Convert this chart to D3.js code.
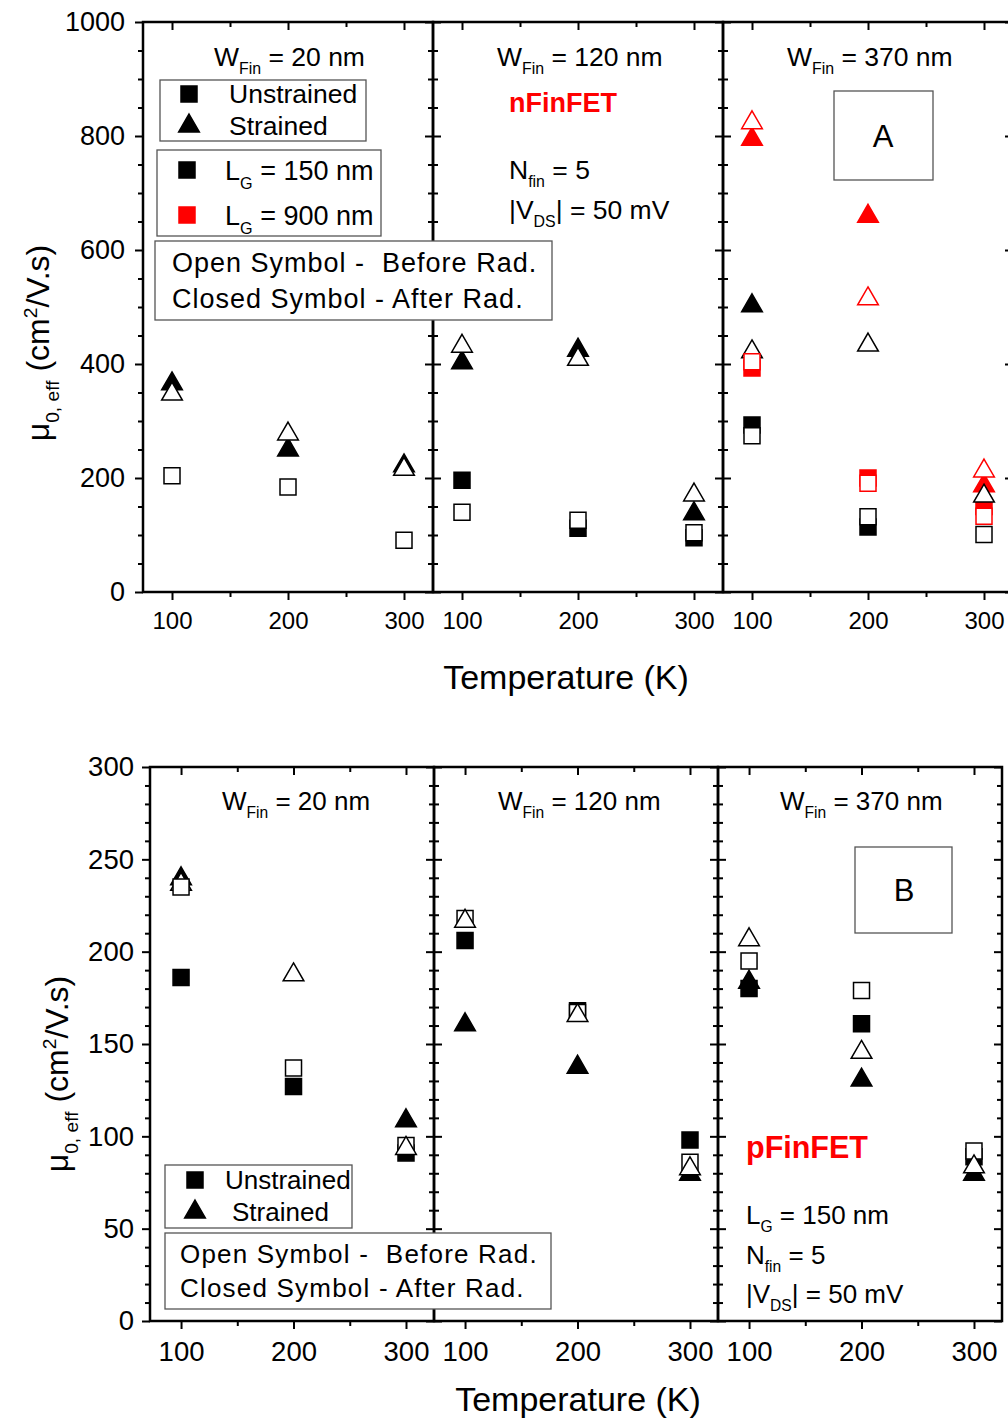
<!DOCTYPE html>
<html>
<head>
<meta charset="utf-8">
<script src="https://cdn.jsdelivr.net/npm/d3@7"></script>
<style>
  body { margin: 0; background: #fff; }
  text { font-family: "Liberation Sans", Arial, sans-serif; fill: #000; white-space: pre; }
</style>
</head>
<body>
<script>
const temperatures = [100, 200, 300];
const minorTemps = [150, 250];
const finWidths = [20, 120, 370];

const nTicks = [0, 200, 400, 600, 800, 1000];
const pTicks = [0, 50, 100, 150, 200, 250, 300];

// s: U = unstrained, S = strained ; r: B = before rad, A = after rad ; lg: gate length
const nFinData = [
  { w: 20, t: 100, s: "S", r: "A", lg: 150, mu: 367 },
  { w: 20, t: 100, s: "S", r: "B", lg: 150, mu: 349 },
  { w: 20, t: 100, s: "U", r: "B", lg: 150, mu: 204 },
  { w: 20, t: 200, s: "S", r: "B", lg: 150, mu: 279 },
  { w: 20, t: 200, s: "S", r: "A", lg: 150, mu: 251 },
  { w: 20, t: 200, s: "U", r: "B", lg: 150, mu: 184 },
  { w: 20, t: 300, s: "S", r: "A", lg: 150, mu: 223 },
  { w: 20, t: 300, s: "S", r: "B", lg: 150, mu: 217 },
  { w: 20, t: 300, s: "U", r: "B", lg: 150, mu: 91 },

  { w: 120, t: 100, s: "S", r: "B", lg: 150, mu: 433 },
  { w: 120, t: 100, s: "S", r: "A", lg: 150, mu: 404 },
  { w: 120, t: 100, s: "U", r: "A", lg: 150, mu: 196 },
  { w: 120, t: 100, s: "U", r: "B", lg: 150, mu: 140 },
  { w: 120, t: 200, s: "S", r: "A", lg: 150, mu: 426 },
  { w: 120, t: 200, s: "S", r: "B", lg: 150, mu: 410 },
  { w: 120, t: 200, s: "U", r: "B", lg: 150, mu: 126 },
  { w: 120, t: 200, s: "U", r: "A", lg: 150, mu: 112 },
  { w: 120, t: 300, s: "S", r: "B", lg: 150, mu: 172 },
  { w: 120, t: 300, s: "S", r: "A", lg: 150, mu: 139 },
  { w: 120, t: 300, s: "U", r: "B", lg: 150, mu: 104 },
  { w: 120, t: 300, s: "U", r: "A", lg: 150, mu: 95 },

  { w: 370, t: 100, s: "S", r: "B", lg: 900, mu: 825 },
  { w: 370, t: 100, s: "S", r: "A", lg: 900, mu: 796 },
  { w: 370, t: 100, s: "S", r: "A", lg: 150, mu: 504 },
  { w: 370, t: 100, s: "S", r: "B", lg: 150, mu: 423 },
  { w: 370, t: 100, s: "U", r: "A", lg: 900, mu: 393 },
  { w: 370, t: 100, s: "U", r: "B", lg: 900, mu: 404 },
  { w: 370, t: 100, s: "U", r: "A", lg: 150, mu: 293 },
  { w: 370, t: 100, s: "U", r: "B", lg: 150, mu: 274 },
  { w: 370, t: 200, s: "S", r: "A", lg: 900, mu: 661 },
  { w: 370, t: 200, s: "S", r: "B", lg: 900, mu: 516 },
  { w: 370, t: 200, s: "S", r: "B", lg: 150, mu: 435 },
  { w: 370, t: 200, s: "U", r: "A", lg: 900, mu: 200 },
  { w: 370, t: 200, s: "U", r: "B", lg: 900, mu: 191 },
  { w: 370, t: 200, s: "U", r: "B", lg: 150, mu: 132 },
  { w: 370, t: 200, s: "U", r: "A", lg: 150, mu: 114 },
  { w: 370, t: 300, s: "S", r: "B", lg: 900, mu: 214 },
  { w: 370, t: 300, s: "S", r: "A", lg: 900, mu: 188 },
  { w: 370, t: 300, s: "S", r: "B", lg: 150, mu: 170 },
  { w: 370, t: 300, s: "U", r: "A", lg: 900, mu: 150 },
  { w: 370, t: 300, s: "U", r: "B", lg: 900, mu: 133 },
  { w: 370, t: 300, s: "U", r: "B", lg: 150, mu: 101 }
];

const pFinData = [
  { w: 20, t: 100, s: "S", r: "A", lg: 150, mu: 240 },
  { w: 20, t: 100, s: "S", r: "B", lg: 150, mu: 237 },
  { w: 20, t: 100, s: "U", r: "B", lg: 150, mu: 235 },
  { w: 20, t: 100, s: "U", r: "A", lg: 150, mu: 186 },
  { w: 20, t: 200, s: "S", r: "B", lg: 150, mu: 188 },
  { w: 20, t: 200, s: "U", r: "B", lg: 150, mu: 137 },
  { w: 20, t: 200, s: "U", r: "A", lg: 150, mu: 127 },
  { w: 20, t: 300, s: "S", r: "A", lg: 150, mu: 109 },
  { w: 20, t: 300, s: "U", r: "B", lg: 150, mu: 95 },
  { w: 20, t: 300, s: "S", r: "B", lg: 150, mu: 94 },
  { w: 20, t: 300, s: "U", r: "A", lg: 150, mu: 91 },

  { w: 120, t: 100, s: "U", r: "B", lg: 150, mu: 218 },
  { w: 120, t: 100, s: "S", r: "B", lg: 150, mu: 217 },
  { w: 120, t: 100, s: "U", r: "A", lg: 150, mu: 206 },
  { w: 120, t: 100, s: "S", r: "A", lg: 150, mu: 161 },
  { w: 120, t: 200, s: "U", r: "A", lg: 150, mu: 168 },
  { w: 120, t: 200, s: "U", r: "B", lg: 150, mu: 167 },
  { w: 120, t: 200, s: "S", r: "B", lg: 150, mu: 166 },
  { w: 120, t: 200, s: "S", r: "A", lg: 150, mu: 138 },
  { w: 120, t: 300, s: "U", r: "A", lg: 150, mu: 98 },
  { w: 120, t: 300, s: "U", r: "B", lg: 150, mu: 86 },
  { w: 120, t: 300, s: "S", r: "B", lg: 150, mu: 83 },
  { w: 120, t: 300, s: "S", r: "A", lg: 150, mu: 80 },

  { w: 370, t: 100, s: "S", r: "B", lg: 150, mu: 207 },
  { w: 370, t: 100, s: "U", r: "B", lg: 150, mu: 195 },
  { w: 370, t: 100, s: "S", r: "A", lg: 150, mu: 184 },
  { w: 370, t: 100, s: "U", r: "A", lg: 150, mu: 180 },
  { w: 370, t: 200, s: "U", r: "B", lg: 150, mu: 179 },
  { w: 370, t: 200, s: "U", r: "A", lg: 150, mu: 161 },
  { w: 370, t: 200, s: "S", r: "B", lg: 150, mu: 146 },
  { w: 370, t: 200, s: "S", r: "A", lg: 150, mu: 131 },
  { w: 370, t: 300, s: "U", r: "B", lg: 150, mu: 92 },
  { w: 370, t: 300, s: "U", r: "A", lg: 150, mu: 89 },
  { w: 370, t: 300, s: "S", r: "B", lg: 150, mu: 84 },
  { w: 370, t: 300, s: "S", r: "A", lg: 150, mu: 80 }
];

const strainLabels = ["Unstrained", "Strained"];
const gateLabels = ["150 nm", "900 nm"];
const radLabels = ["Open Symbol -  Before Rad.", "Closed Symbol - After Rad."];

const svg = d3.select("body").append("svg")
  .attr("width", 1008)
  .attr("height", 1423);

const color = lg => lg === 900 ? "#ff0000" : "#000";
const squareSym = d3.symbol().type(d3.symbolSquare).size(256);
const triSym = d3.symbol().type(d3.symbolTriangle).size(185);

function marker(g, s, filled, col, cx, cy) {
  g.append("path")
    .attr("d", s === "S" ? triSym() : squareSym())
    .attr("transform", "translate(" + cx + "," + (s === "S" ? cy + 1 : cy) + ")")
    .attr("fill", filled ? col : "#fff")
    .attr("stroke", col)
    .attr("stroke-width", 1.5);
}

function subText(g, x, y, parts, size, anchor) {
  let t = g.append("text").attr("x", x).attr("y", y)
    .style("font-size", size + "px")
    .attr("text-anchor", anchor || "start");
  let shift = 0;
  parts.forEach(p => {
    let dy = 0;
    if (p.sub) { dy = size * 0.32 - shift; shift = size * 0.32; }
    else if (p.sup) { dy = -size * 0.38 - shift; shift = -size * 0.38; }
    else { dy = -shift; shift = 0; }
    t.append("tspan").attr("dy", dy)
      .style("font-size", (p.sub || p.sup ? size * 0.6 : size) + "px")
      .text(p.t);
  });
  return t;
}

function drawChart(opt) {
  const x = d3.scaleLinear().domain(opt.xDomain).range([0, opt.pw]);
  const y = d3.scaleLinear().domain([opt.yTicks[0], opt.yTicks[opt.yTicks.length - 1]]).range([opt.h, 0]);
  const yMinor = d3.range(opt.yTicks[0], opt.yTicks[opt.yTicks.length - 1], opt.minorStep)
    .filter(v => !opt.yTicks.includes(v));

  finWidths.forEach((w, i) => {
    const g = svg.append("g")
      .attr("transform", "translate(" + (opt.left + i * opt.pw) + "," + opt.top + ")");

    // points, closed symbols first then open ones
    const pts = opt.data.filter(d => d.w === w)
      .sort((a, b) => (a.r === "A" ? 0 : 1) - (b.r === "A" ? 0 : 1));
    pts.forEach(d => marker(g, d.s, d.r === "A", color(d.lg), x(d.t), y(d.mu)));

    // x axis bottom (outward) + top (inward)
    const xb = g.append("g").attr("transform", "translate(0," + opt.h + ")")
      .call(d3.axisBottom(x).tickValues(temperatures).tickSize(8).tickPadding(opt.xPad).tickFormat(d3.format("d")));
    xb.selectAll("text").style("font-size", opt.xFont + "px");
    g.append("g").attr("transform", "translate(0," + opt.h + ")")
      .call(d3.axisBottom(x).tickValues(minorTemps).tickSize(5).tickFormat(""));
    g.append("g").call(d3.axisTop(x).tickValues(temperatures).tickSize(-8).tickFormat(""));
    g.append("g").call(d3.axisTop(x).tickValues(minorTemps).tickSize(-5).tickFormat(""));

    // y axis left
    if (i === 0) {
      const yl = g.append("g")
        .call(d3.axisLeft(y).tickValues(opt.yTicks).tickSize(8).tickPadding(opt.yPad).tickFormat(d3.format("d")));
      yl.selectAll("text").style("font-size", opt.yFont + "px");
      g.append("g").call(d3.axisLeft(y).tickValues(yMinor).tickSize(5).tickFormat(""));
    } else {
      g.append("g").call(d3.axisRight(y).tickValues(opt.yTicks).tickSize(8).tickFormat(""));
      g.append("g").call(d3.axisRight(y).tickValues(yMinor).tickSize(5).tickFormat(""));
    }
    // y axis right (inward)
    g.append("g").attr("transform", "translate(" + opt.pw + ",0)")
      .call(d3.axisRight(y).tickValues(opt.yTicks).tickSize(-8).tickFormat(""));
    g.append("g").attr("transform", "translate(" + opt.pw + ",0)")
      .call(d3.axisRight(y).tickValues(yMinor).tickSize(-5).tickFormat(""));

    g.selectAll(".domain").remove();
    g.selectAll(".tick line").attr("stroke", "#000").attr("stroke-width", 2);

    g.append("rect")
      .attr("width", opt.pw).attr("height", opt.h)
      .attr("fill", "none").attr("stroke", "#000").attr("stroke-width", 2.5);

    // panel title
    subText(g, opt.titleX[i], opt.titleY, [{ t: "W" }, { t: "Fin", sub: true }, { t: " = " + w + " nm" }], opt.titleFont, "start");
  });

  // axis titles
  svg.append("text")
    .attr("x", opt.xTitle[0]).attr("y", opt.xTitle[1])
    .attr("text-anchor", "middle")
    .style("font-size", "34px")
    .text("Temperature (K)");

  const yl = svg.append("g").attr("transform", "translate(" + opt.yTitle[0] + "," + opt.yTitle[1] + ") rotate(-90)");
  subText(yl, 0, 0, [{ t: "μ" }, { t: "0, eff", sub: true }, { t: " (cm" }, { t: "2", sup: true }, { t: "/V.s)" }], 32, "middle");
}

function box(x0, y0, w, h) {
  svg.append("rect").attr("x", x0).attr("y", y0).attr("width", w).attr("height", h)
    .attr("fill", "#fff").attr("stroke", "#555").attr("stroke-width", 1.3);
}

// ---------- chart A : nFinFET ----------
drawChart({
  left: 143, top: 22, pw: 290, h: 570, xDomain: [75, 325],
  yTicks: nTicks, minorStep: 50, data: nFinData,
  xFont: 24, yFont: 27, xPad: 12, yPad: 10, titleFont: 26.5,
  titleX: [71, 64, 64], titleY: 44,
  xTitle: [566, 689], yTitle: [49, 343]
});

// legends chart A
box(160, 80, 206, 61);
strainLabels.forEach((lab, i) => {
  const g = svg.append("g");
  marker(g, i === 0 ? "U" : "S", true, "#000", 189, 94 + i * 31);
  g.append("text").attr("x", 229).attr("y", 103 + i * 32).style("font-size", "26.5px").text(lab);
});
box(157, 150, 224, 86);
gateLabels.forEach((lab, i) => {
  const g = svg.append("g");
  marker(g, "U", true, i === 0 ? "#000" : "#ff0000", 187, 170 + i * 45);
  subText(g, 225, 180 + i * 45, [{ t: "L" }, { t: "G", sub: true }, { t: " = " + lab }], 27);
});
box(155, 241, 397, 79);
radLabels.forEach((lab, i) => {
  svg.append("text").attr("x", 172).attr("y", 272 + i * 36)
    .style("font-size", "27px").style("letter-spacing", "1px").text(lab);
});

svg.append("text").attr("x", 509).attr("y", 112)
  .style("font-size", "27px").style("font-weight", "bold").style("fill", "#ff0000")
  .text("nFinFET");
subText(svg, 509, 179, [{ t: "N" }, { t: "fin", sub: true }, { t: " = 5" }], 26.5);
subText(svg, 509, 219, [{ t: "|V" }, { t: "DS", sub: true }, { t: "| = 50 mV" }], 26.5);

box(834, 91, 99, 89);
svg.append("text").attr("x", 883).attr("y", 147).attr("text-anchor", "middle")
  .style("font-size", "31px").text("A");

// ---------- chart B : pFinFET ----------
drawChart({
  left: 150, top: 767, pw: 284, h: 554, xDomain: [72.4, 324.9],
  yTicks: pTicks, minorStep: 10, data: pFinData,
  xFont: 27.5, yFont: 27.5, xPad: 12, yPad: 8, titleFont: 26,
  titleX: [72, 64, 62], titleY: 43,
  xTitle: [578, 1411], yTitle: [68, 1074]
});

box(165, 1165, 187, 63);
strainLabels.forEach((lab, i) => {
  const g = svg.append("g");
  marker(g, i === 0 ? "U" : "S", true, "#000", 195, 1180 + i * 31);
  g.append("text").attr("x", i === 0 ? 225 : 232).attr("y", 1189 + i * 32).style("font-size", "26px").text(lab);
});
box(165, 1233, 386, 76);
radLabels.forEach((lab, i) => {
  svg.append("text").attr("x", 180).attr("y", 1263 + i * 34)
    .style("font-size", "26px").style("letter-spacing", "1.2px").text(lab);
});

svg.append("text").attr("x", 746).attr("y", 1158)
  .style("font-size", "30.5px").style("font-weight", "bold").style("fill", "#ff0000")
  .text("pFinFET");
subText(svg, 746, 1224, [{ t: "L" }, { t: "G", sub: true }, { t: " = 150 nm" }], 26);
subText(svg, 746, 1264, [{ t: "N" }, { t: "fin", sub: true }, { t: " = 5" }], 26);
subText(svg, 746, 1303, [{ t: "|V" }, { t: "DS", sub: true }, { t: "| = 50 mV" }], 26);

box(855, 847, 97, 86);
svg.append("text").attr("x", 904).attr("y", 901).attr("text-anchor", "middle")
  .style("font-size", "31px").text("B");
</script>
</body>
</html>
